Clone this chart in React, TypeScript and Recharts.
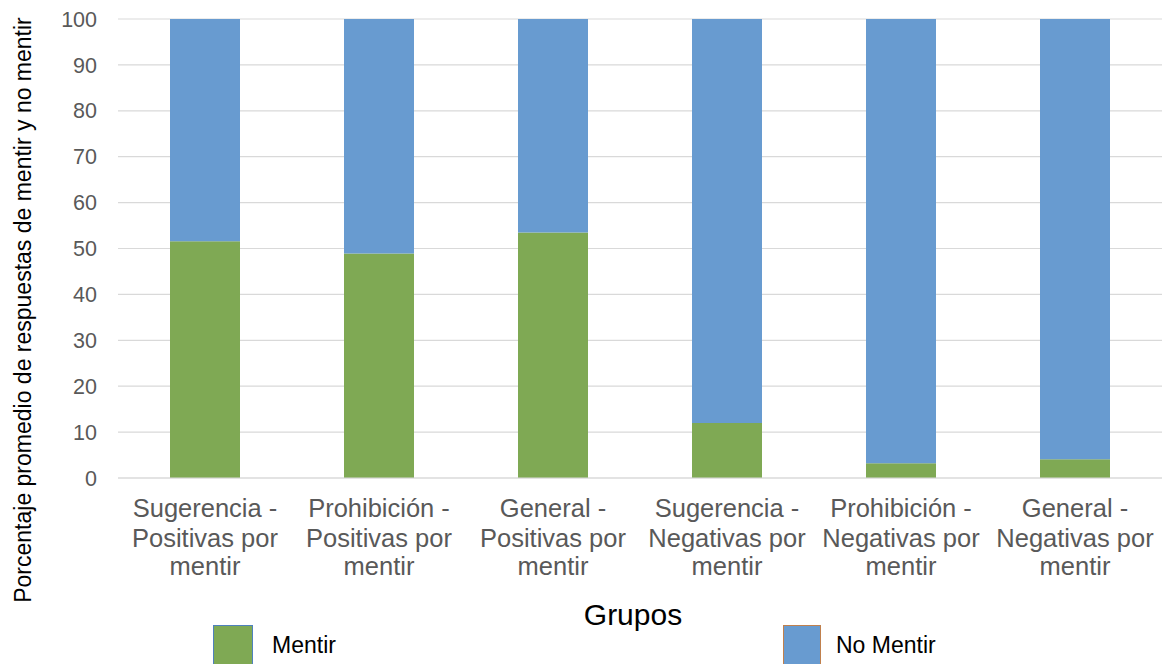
import React from "react";
import { BarChart, Bar, XAxis, YAxis, CartesianGrid } from "recharts";

const categories = [
  "Sugerencia -\nPositivas por\nmentir",
  "Prohibición -\nPositivas por\nmentir",
  "General -\nPositivas por\nmentir",
  "Sugerencia -\nNegativas por\nmentir",
  "Prohibición -\nNegativas por\nmentir",
  "General -\nNegativas por\nmentir",
];
const mentir = [51.6, 48.9, 53.5, 12.0, 3.2, 4.1];
const noMentir = mentir.map((v) => 100 - v);
const yTicks = [0, 10, 20, 30, 40, 50, 60, 70, 80, 90, 100];
const seriesNames = ["Mentir", "No Mentir"];
const yTitle = "Porcentaje promedio de respuestas de mentir y no mentir";
const xTitle = "Grupos";

const GREEN = "#7FA954";
const BLUE = "#689BD0";
const FONT = "'Liberation Sans', Arial, Helvetica, sans-serif";

const data = categories.map((c, i) => ({
  name: c,
  mentir: mentir[i],
  noMentir: noMentir[i],
}));

const XTick = (props: any) => {
  const { x, y, payload } = props;
  const lines = String(payload.value).split("\n");
  const offsets = [39, 69, 97];
  return (
    <g>
      {lines.map((l: string, i: number) => (
        <text
          key={i}
          x={x}
          y={y + offsets[i]}
          textAnchor="middle"
          fill="#595959"
          fontSize={25.5}
          fontFamily={FONT}
        >
          {l}
        </text>
      ))}
    </g>
  );
};

export default function App() {
  return (
    <div style={{ position: "absolute", left: 0, top: 0, width: 1162, height: 664, background: "#fff", fontFamily: FONT }}>
      <BarChart
        width={1162}
        height={664}
        data={data}
        margin={{ top: 19, right: 0, bottom: 0, left: 0 }}
      >
        <CartesianGrid vertical={false} stroke="#D9D9D9" strokeWidth={1.2} />
        <XAxis
          dataKey="name"
          height={186}
          tick={<XTick />}
          tickLine={false}
          tickSize={0}
          tickMargin={0}
          axisLine={{ stroke: "#D9D9D9", strokeWidth: 1.2 }}
          interval={0}
        />
        <YAxis
          width={118}
          domain={[0, 100]}
          ticks={yTicks}
          axisLine={false}
          tickLine={false}
          tickSize={0}
          tickMargin={21}
          tick={{ fill: "#595959", fontSize: 21.5, fontFamily: FONT }}
        />
        <Bar dataKey="mentir" name={seriesNames[0]} stackId="a" fill={GREEN} barSize={70} isAnimationActive={false} />
        <Bar dataKey="noMentir" name={seriesNames[1]} stackId="a" fill={BLUE} barSize={70} isAnimationActive={false} />
      </BarChart>
      <svg
        width={1162}
        height={664}
        style={{ position: "absolute", left: 0, top: 0, pointerEvents: "none" }}
      >
        <text
          transform="translate(31,310) rotate(-90)"
          textAnchor="middle"
          fontSize={23}
          fontFamily={FONT}
          fill="#000"
        >
          {yTitle}
        </text>
        <text x={633} y={625} textAnchor="middle" fontSize={30} fontFamily={FONT} fill="#000">
          {xTitle}
        </text>
        <rect x={213.5} y={625.5} width={39} height={40} fill={GREEN} stroke="#4F81BD" strokeWidth={1} />
        <text x={272} y={653} fontSize={23} fontFamily={FONT} fill="#000">
          {seriesNames[0]}
        </text>
        <rect x={783.5} y={625.5} width={37} height={40} fill={BLUE} stroke="#C0804D" strokeWidth={1} />
        <text x={836} y={653} fontSize={23} fontFamily={FONT} fill="#000">
          {seriesNames[1]}
        </text>
      </svg>
    </div>
  );
}
